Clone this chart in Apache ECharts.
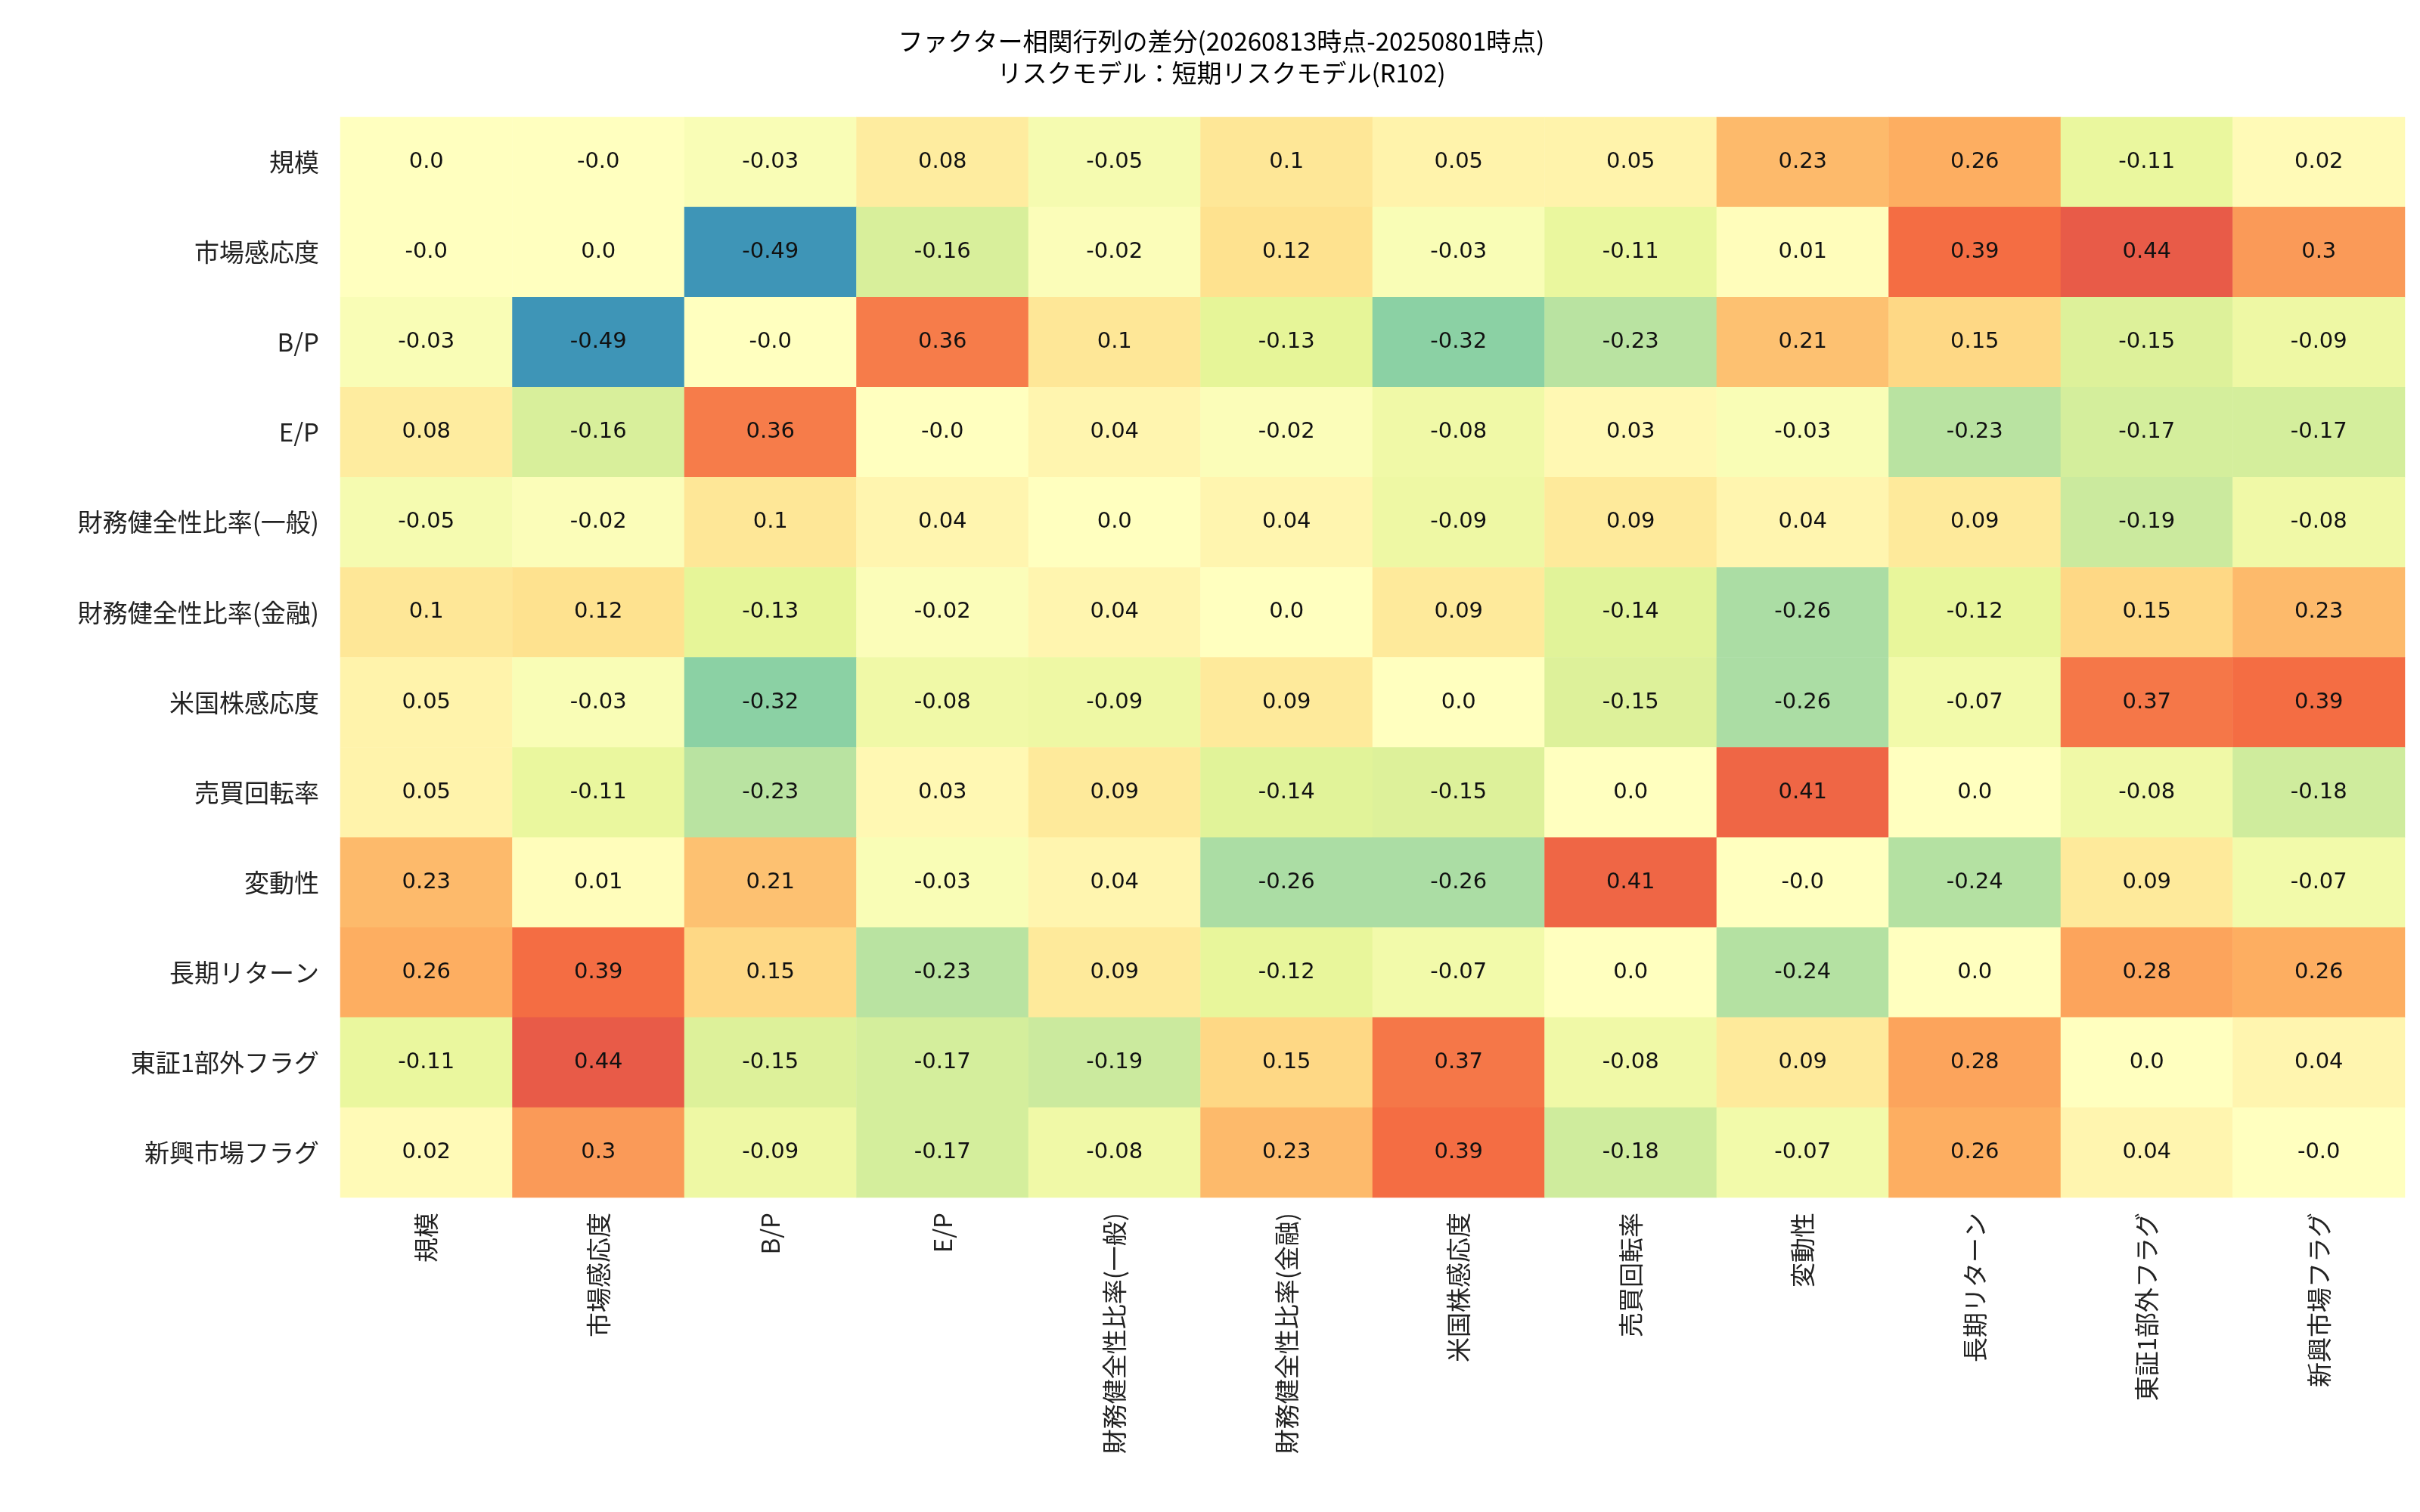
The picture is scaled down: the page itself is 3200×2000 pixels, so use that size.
<!DOCTYPE html>
<html><head><meta charset="utf-8">
<script src="https://cdn.jsdelivr.net/npm/echarts@6/dist/echarts.min.js"></script>
<style>html,body{margin:0;background:#fff}#c{width:3200px;height:2000px}</style>
</head><body><div id="c"></div>
<script>
// ファクター名
const factors = ['規模','市場感応度','B/P','E/P','財務健全性比率(一般)','財務健全性比率(金融)','米国株感応度','売買回転率','変動性','長期リターン','東証1部外フラグ','新興市場フラグ'];
const r0  = ['0.0','-0.0',-0.03,0.08,-0.05,0.1,0.05,0.05,0.23,0.26,-0.11,0.02];
const r1  = ['-0.0','0.0',-0.49,-0.16,-0.02,0.12,-0.03,-0.11,0.01,0.39,0.44,0.3];
const r2  = [-0.03,-0.49,'-0.0',0.36,0.1,-0.13,-0.32,-0.23,0.21,0.15,-0.15,-0.09];
const r3  = [0.08,-0.16,0.36,'-0.0',0.04,-0.02,-0.08,0.03,-0.03,-0.23,-0.17,-0.17];
const r4  = [-0.05,-0.02,0.1,0.04,'0.0',0.04,-0.09,0.09,0.04,0.09,-0.19,-0.08];
const r5  = [0.1,0.12,-0.13,-0.02,0.04,'0.0',0.09,-0.14,-0.26,-0.12,0.15,0.23];
const r6  = [0.05,-0.03,-0.32,-0.08,-0.09,0.09,'0.0',-0.15,-0.26,-0.07,0.37,0.39];
const r7  = [0.05,-0.11,-0.23,0.03,0.09,-0.14,-0.15,'0.0',0.41,'0.0',-0.08,-0.18];
const r8  = [0.23,0.01,0.21,-0.03,0.04,-0.26,-0.26,0.41,'-0.0',-0.24,0.09,-0.07];
const r9  = [0.26,0.39,0.15,-0.23,0.09,-0.12,-0.07,'0.0',-0.24,'0.0',0.28,0.26];
const r10 = [-0.11,0.44,-0.15,-0.17,-0.19,0.15,0.37,-0.08,0.09,0.28,'0.0',0.04];
const r11 = [0.02,0.3,-0.09,-0.17,-0.08,0.23,0.39,-0.18,-0.07,0.26,0.04,'-0.0'];
const rows = [r0,r1,r2,r3,r4,r5,r6,r7,r8,r9,r10,r11];

const data = [];
rows.forEach((row, i) => {
  row.forEach((v, j) => {
    data.push({value: [j, i, Number(v)], label: {formatter: String(v)}});
  });
});

const chart = echarts.init(document.getElementById('c'));
chart.setOption({
  backgroundColor: '#ffffff',
  textStyle: {fontFamily: 'Noto Sans CJK JP'},
  title: {
    text: 'ファクター相関行列の差分(20260813時点-20250801時点)\nリスクモデル：短期リスクモデル(R102)',
    left: 1610, top: 28, textAlign: 'center',
    textStyle: {fontSize: 33, fontWeight: 'normal', color: '#000', lineHeight: 42, fontFamily: 'Noto Sans CJK JP'}
  },
  grid: {left: 450, right: 20, top: 155, bottom: 416},
  xAxis: {
    type: 'category', data: factors, position: 'bottom',
    axisLine: {show: false}, axisTick: {show: false}, splitLine: {show: false},
    axisLabel: {rotate: 90, fontSize: 33, color: '#222', interval: 0, margin: 20, fontFamily: 'Noto Sans CJK JP'}
  },
  yAxis: {
    type: 'category', data: factors, inverse: true,
    axisLine: {show: false}, axisTick: {show: false}, splitLine: {show: false},
    axisLabel: {fontSize: 33, color: '#222', margin: 28, fontFamily: 'Noto Sans CJK JP'}
  },
  visualMap: {
    show: false, min: -0.65, max: 0.65, dimension: 2,
    inRange: {color: ['#5e4fa2','#3288bd','#66c2a5','#abdda4','#e6f598','#ffffbf','#fee08b','#fdae61','#f46d43','#d53e4f','#9e0142']}
  },
  series: [{
    type: 'heatmap', data: data,
    label: {show: true, fontSize: 29, color: '#111', fontFamily: 'DejaVu Sans'},
    emphasis: {disabled: true}
  }]
});
</script></body></html>
